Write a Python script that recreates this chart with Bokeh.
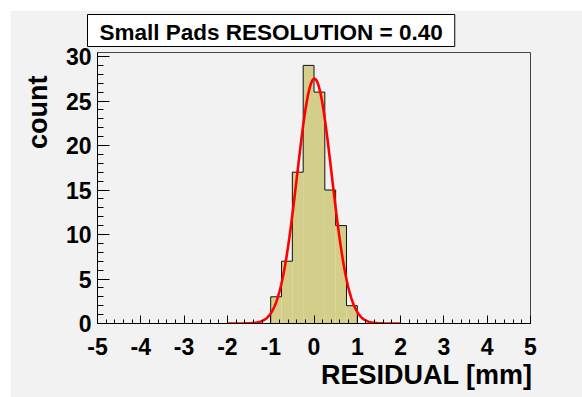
import numpy as np
from bokeh.plotting import figure
from bokeh.layouts import column, row
from bokeh.models import Range1d, Title, SingleIntervalTicker, Spacer
from bokeh.embed import file_html
from bokeh.resources import INLINE

# ---- data ----
bin_edges = [-1.0, -0.75, -0.5, -0.25, 0.0, 0.25, 0.5, 0.75, 1.0]
counts = [3, 7, 17, 29, 26, 15, 11, 2]
fit_constant = 27.5
fit_mean = 0.01
fit_sigma = 0.40
fit_x_min, fit_x_max = -2.0, 2.0
x_ticks = [-5, -4, -3, -2, -1, 0, 1, 2, 3, 4, 5]
x_tick_labels = ["-5", "-4", "-3", "-2", "-1", "0", "1", "2", "3", "4", "5"]
y_ticks = [0, 5, 10, 15, 20, 25, 30]
y_tick_labels = ["0", "5", "10", "15", "20", "25", "30"]
title_text = "Small Pads RESOLUTION = 0.40"
x_title = "RESIDUAL [mm]"
y_title = "count"

FONT = "Liberation Sans"
BG = "#f2f2f2"
FILL = "#d3cf8b"

p = figure(width=572, height=387, output_backend="svg", toolbar_location=None,
           x_range=Range1d(-5, 5), y_range=Range1d(0, 30.45),
           min_border_left=87, min_border_right=52, min_border_top=40,
           min_border_bottom=74)
p.background_fill_color = BG
p.border_fill_color = BG
p.outline_line_color = "#444444"
p.outline_line_width = 1
p.grid.visible = False

# histogram fill
p.quad(left=bin_edges[:-1], right=bin_edges[1:], top=counts, bottom=0,
       fill_color=FILL, line_color=None)
# step outline
sx, sy = [bin_edges[0]], [0]
for i, c in enumerate(counts):
    sx += [bin_edges[i], bin_edges[i + 1]]
    sy += [c, c]
sx.append(bin_edges[-1]); sy.append(0)
p.line(sx, sy, line_color="#111111", line_width=1)

# gaussian fit
fx = np.linspace(fit_x_min, fit_x_max, 300)
fy = fit_constant * np.exp(-0.5 * ((fx - fit_mean) / fit_sigma) ** 2)
p.line(fx, fy, line_color="#ff0000", line_width=2.6)

# axes
xa = p.xaxis[0]
xa.ticker = SingleIntervalTicker(interval=1, num_minor_ticks=5)
xa.major_label_overrides = {t: l for t, l in zip(x_ticks, x_tick_labels)}
ya = p.yaxis[0]
ya.ticker = SingleIntervalTicker(interval=5, num_minor_ticks=5)
ya.major_label_overrides = {t: l for t, l in zip(y_ticks, y_tick_labels)}

for ax, maj, mnr, so in ((xa, 8, 4, 14), (ya, 12, 6, 6)):
    ax.axis_line_color = "black"
    ax.axis_line_width = 1
    ax.major_tick_in = maj
    ax.major_tick_out = 0
    ax.minor_tick_in = mnr
    ax.minor_tick_out = 0
    ax.major_tick_line_color = "black"
    ax.minor_tick_line_color = "black"
    ax.major_label_text_font = FONT
    ax.major_label_text_font_style = "bold"
    ax.major_label_text_font_size = "23px"
    ax.major_label_text_color = "black"
    ax.major_label_standoff = so

# axis titles (side panels)
p.add_layout(Title(text=x_title, align="right", text_font=FONT,
                   text_font_style="bold", text_font_size="27px",
                   text_color="black", standoff=1, offset=-2), "below")
p.add_layout(Title(text=y_title, align="right", text_font=FONT,
                   text_font_style="bold", text_font_size="27px",
                   text_color="black", standoff=20, offset=23), "left")

# title box
p.add_layout(Title(text=title_text, align="left", offset=-10,
                   vertical_align="top",
                   text_font=FONT, text_font_style="bold",
                   text_font_size="22.5px", text_color="black",
                   background_fill_color="white", border_line_color="black",
                   border_line_width=1, standoff=8,
                   padding=dict(left=12, right=12, top=5, bottom=2)), "above")

layout = column(Spacer(height=10), row(Spacer(width=10), p))
open("out.html", "w").write(file_html(layout, INLINE))
